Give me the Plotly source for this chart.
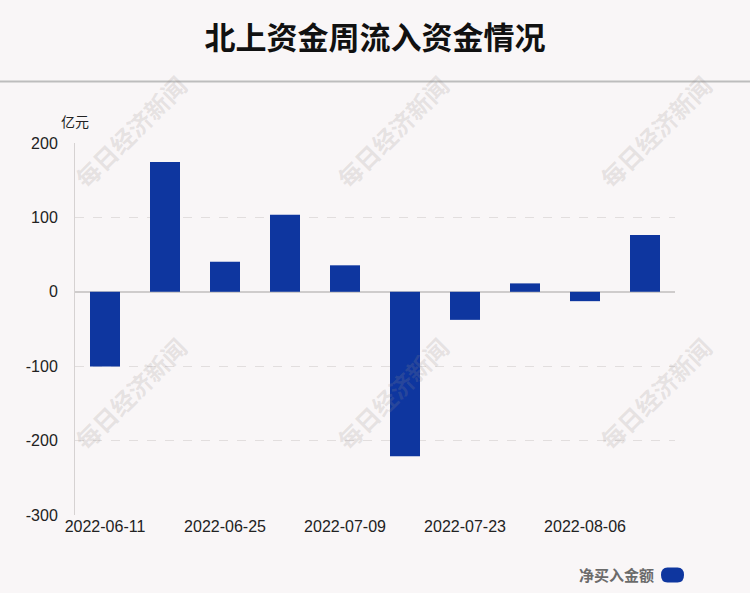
import plotly.graph_objects as go

# weekly net inflow (亿元)
weeks = ["2022-06-11", "2022-06-18", "2022-06-25", "2022-07-02", "2022-07-09",
         "2022-07-16", "2022-07-23", "2022-07-30", "2022-08-06", "2022-08-13"]
net_buy = [-100.5, 174.4, 40.4, 103.4, 35.6, -221.0, -37.7, 11.3, -12.6, 76.4]
y_ticks = [-300, -200, -100, 0, 100, 200]

BG = "#f9f6f7"
BLUE = "#0e369f"

fig = go.Figure()
fig.add_trace(go.Bar(x=weeks, y=net_buy, name="净买入金额", marker_color=BLUE,
                     marker_line_width=0, showlegend=False))

fig.update_layout(
    width=750, height=593,
    margin=dict(l=75, r=75, t=143, b=78),
    paper_bgcolor=BG, plot_bgcolor=BG,
    bargap=0.5,
    font=dict(family="Liberation Sans, Arial, Noto Sans CJK SC", size=16, color="#222"),
    title=dict(text="<b>北上资金周流入资金情况</b>", x=0.5, xanchor="center",
               y=1 - 38 / 593, yanchor="middle",
               font=dict(family="Noto Sans CJK SC", size=31, color="#111")),
)
fig.update_yaxes(range=[-300, 200], tickvals=y_ticks, ticktext=[str(v) for v in y_ticks],
                 showgrid=True, gridcolor="#e2dede", griddash="dash", gridwidth=1,
                 zeroline=True, zerolinecolor="#cfcccc", zerolinewidth=2,
                 showline=True, linecolor="#d6d2d2", linewidth=1,
                 ticks="", ticklabelstandoff=13, tickfont=dict(size=16))
fig.update_xaxes(type="category", tickvals=weeks[::2], showgrid=False,
                 showline=False, ticks="", tickfont=dict(size=16))

# header rule
fig.add_shape(type="line", xref="paper", yref="paper", x0=-0.125, x1=1.125,
              y0=(515 - 81.5) / 372, y1=(515 - 81.5) / 372,
              line=dict(color="#bdbdbd", width=2))

# unit label
fig.add_annotation(text="亿元", xref="paper", yref="paper", x=0, y=(515 - 121.5) / 372,
                   xanchor="center", yanchor="middle", showarrow=False,
                   font=dict(family="Noto Sans CJK SC", size=14, color="#222"))

# legend: text then pill marker
fig.add_annotation(text="<b>净买入金额</b>", xref="paper", yref="paper",
                   x=(656 - 75) / 600, y=(515 - 574) / 372,
                   xanchor="right", yanchor="middle", showarrow=False,
                   font=dict(family="Noto Sans CJK SC", size=15, color="#6b6b6b"))
fig.add_shape(type="path", xref="paper", yref="paper", xsizemode="pixel", ysizemode="pixel",
              xanchor=(672.5 - 75) / 600, yanchor=(515 - 575) / 372,
              path="M -5,-7.5 L 5,-7.5 Q 11.5,-7.5 11.5,0 Q 11.5,7.5 5,7.5 L -5,7.5 "
                   "Q -11.5,7.5 -11.5,0 Q -11.5,-7.5 -5,-7.5 Z",
              fillcolor=BLUE, line=dict(width=0))

# watermarks
for cx in (130, 392, 655):
    for cy in (131, 393):
        fig.add_annotation(text="<b>每日经济新闻</b>", xref="paper", yref="paper",
                           x=(cx - 75) / 600, y=(515 - cy) / 372, textangle=-45,
                           xanchor="center", yanchor="middle", showarrow=False,
                           font=dict(family="Noto Sans CJK SC", size=24,
                                     color="rgba(150,140,140,0.2)"))

fig.write_html("out.html", config={"displayModeBar": False},
               post_script="document.body.style.margin='0';")
